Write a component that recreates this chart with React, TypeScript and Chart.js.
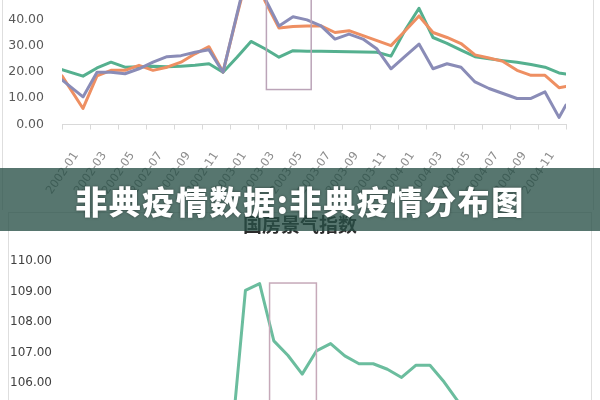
import React, { useEffect, useRef } from "react";
import { Chart, registerables } from "chart.js";

Chart.register(...registerables);

// ---------- Top chart data ----------
// month positions (0 = start of 2002-01, 36 = end of 2004-12)
const topMonthPositions = [
  0, 1.5, 2.5, 3.5, 4.5, 5.5, 6.5, 7.5, 8.5, 9.5, 10.5, 11.5, 12.5, 13.5, 14.5, 15.5, 16.5, 17.5, 18.5,
  19.5, 20.5, 21.5, 22.5, 23.5, 24.5, 25.5, 26.5, 27.5, 28.5, 29.5, 30.5, 31.5, 32.5, 33.5, 34.5, 35.5, 36,
];

const seriesPurple = [
  17.0, 10.5, 19.9, 19.9, 19.3, 21.2, 23.7, 25.8, 26.2, 27.5, 28.4, 19.9, 42.0, 64.0, 48.0, 37.5, 41.0, 39.8,
  37.5, 32.5, 34.4, 32.5, 28.7, 21.2, 25.9, 30.6, 21.2, 23.1, 21.8, 16.2, 13.7, 11.8, 9.9, 9.9, 12.4, 2.7, 7.4,
];

const seriesOrange = [
  18.5, 6.1, 18.5, 20.6, 20.6, 22.5, 20.6, 21.8, 23.7, 26.9, 29.6, 20.0, 41.5, 62.0, 47.0, 36.7, 37.3, 37.5,
  37.5, 35.0, 35.7, 33.8, 31.9, 30.0, 35.6, 41.3, 35.0, 33.1, 30.8, 26.5, 25.3, 24.0, 20.6, 18.7, 18.7, 14.0, 14.5,
];

const seriesGreen = [
  20.9, 18.4, 21.5, 23.7, 21.8, 22.0, 22.2, 22.0, 22.2, 22.5, 23.1, 19.9, 25.6, 31.6, 28.8, 25.6, 28.1, 27.9,
  27.9, 27.8, 27.7, 27.6, 27.5, 26.0, 35.8, 44.2, 33.1, 30.9, 28.3, 25.8, 25.0, 24.3, 23.7, 22.8, 21.8, 19.6, 19.2,
];

const topTickLabels = [
  "2002-01", "2002-03", "2002-05", "2002-07", "2002-09", "2002-11",
  "2003-01", "2003-03", "2003-05", "2003-07", "2003-09", "2003-11",
  "2004-01", "2004-03", "2004-05", "2004-07", "2004-09", "2004-11",
];
const topLabelPositions = [1, 3, 5, 7, 9, 11, 13, 15, 17, 19, 21, 23, 25, 27, 29, 31, 33, 35];
const topTickMarkMonths = [0, 2, 4, 6, 8, 10, 12, 14, 16, 18, 20, 22, 24, 26, 28, 30, 32, 34, 36];

const topHighlightMonths = [14.6, 17.8];
const topHighlightValues = [13.3, 66];

// ---------- Bottom chart data ----------
const bottomTitle = "国房景气指数";
const months = [
  "2002-01", "2002-02", "2002-03", "2002-04", "2002-05", "2002-06", "2002-07", "2002-08", "2002-09", "2002-10", "2002-11", "2002-12",
  "2003-01", "2003-02", "2003-03", "2003-04", "2003-05", "2003-06", "2003-07", "2003-08", "2003-09", "2003-10", "2003-11", "2003-12",
  "2004-01", "2004-02", "2004-03", "2004-04", "2004-05", "2004-06", "2004-07", "2004-08", "2004-09", "2004-10", "2004-11", "2004-12",
];
const climateIndex = [
  104.4, 104.2, 104.3, 104.5, 104.6, 104.4, 104.3, 104.5, 104.6, 104.4, 104.2, 104.0,
  109.04, 109.26, 107.38, 106.9, 106.29, 107.05, 107.29, 106.89, 106.63, 106.63, 106.45, 106.18,
  106.58, 106.58, 106.03, 105.38, 105.1, 104.9, 104.8, 104.7, 104.6, 104.5, 104.5, 104.4,
];
const bottomHighlightIndex = [13.7, 17.0];
const bottomHighlightValues = [100, 109.28];

const bannerText = "非典疫情数据:非典疫情分布图";

function boxPlugin(xr: number[], yr: number[], color: string) {
  return {
    id: "highlightBox",
    afterDatasetsDraw(chart: any) {
      const { ctx, scales } = chart;
      const x0 = scales.x.getPixelForValue(xr[0]);
      const x1 = scales.x.getPixelForValue(xr[1]);
      const y0 = scales.y.getPixelForValue(yr[0]);
      const y1 = scales.y.getPixelForValue(yr[1]);
      ctx.save();
      ctx.strokeStyle = color;
      ctx.lineWidth = 1.5;
      ctx.strokeRect(Math.min(x0, x1), Math.min(y0, y1), Math.abs(x1 - x0), Math.abs(y1 - y0));
      ctx.restore();
    },
  };
}

function TopChart() {
  const ref = useRef<HTMLCanvasElement>(null);
  useEffect(() => {
    const mk = (vals: number[]) => topMonthPositions.map((m, i) => ({ x: m, y: vals[i] }));
    const chart = new Chart(ref.current!, {
      type: "line",
      data: {
        datasets: [
          { data: mk(seriesPurple), borderColor: "#8a8cb7" },
          { data: mk(seriesOrange), borderColor: "#ee8f62" },
          { data: mk(seriesGreen), borderColor: "#55b08f" },
        ],
      },
      options: {
        responsive: false,
        animation: false,
        devicePixelRatio: 1,
        layout: { padding: { top: 0, right: 34, left: 0, bottom: 0 } },
        plugins: { legend: { display: false }, tooltip: { enabled: false } },
        elements: {
          point: { radius: 0 },
          line: { borderWidth: 3, tension: 0, borderJoinStyle: "round", borderCapStyle: "round" },
        },
        scales: {
          x: {
            type: "linear",
            min: 0,
            max: 36,
            afterBuildTicks: (s: any) => {
              s.ticks = topTickMarkMonths.map((v) => ({ value: v }));
            },
            ticks: { display: false },
            grid: { display: true, drawOnChartArea: false, drawTicks: true, tickLength: 5, color: "#d9d9d9" },
            border: { display: true, color: "#d9d9d9" },
            afterFit: (s: any) => {
              s.height = 5;
            },
          },
          x2: {
            type: "linear",
            position: "bottom",
            weight: 1,
            min: 0,
            max: 36,
            afterBuildTicks: (s: any) => {
              s.ticks = topLabelPositions.map((v) => ({ value: v }));
            },
            ticks: {
              autoSkip: false,
              maxRotation: 56,
              minRotation: 56,
              padding: 12,
              font: { family: "DejaVu Sans", size: 11.5 },
              color: "#8c8c8c",
              callback: (_v: any, i: number) => topTickLabels[i],
            },
            grid: { display: false },
            border: { display: false },
            afterFit: (s: any) => {
              s.height = 70.5;
            },
          },
          y: {
            min: 0,
            max: 70,
            ticks: {
              stepSize: 10,
              padding: 10,
              font: { family: "DejaVu Sans", size: 12.5 },
              color: "#595959",
              callback: (v: any) => Number(v).toFixed(2),
            },
            grid: { display: false },
            border: { display: false },
            afterFit: (s: any) => {
              s.width = 62;
            },
          },
        },
      } as any,
      plugins: [boxPlugin(topHighlightMonths, topHighlightValues, "#bba4b8")],
    });
    return () => chart.destroy();
  }, []);
  return (
    <canvas
      ref={ref}
      width={600}
      height={277}
      style={{ position: "absolute", left: 0, top: -77, width: 600, height: 277, zIndex: 2 }}
    />
  );
}

function BottomChart() {
  const ref = useRef<HTMLCanvasElement>(null);
  useEffect(() => {
    const chart = new Chart(ref.current!, {
      type: "line",
      data: {
        labels: months,
        datasets: [{ data: climateIndex, borderColor: "#6bbd9e", borderWidth: 3 }],
      },
      options: {
        responsive: false,
        animation: false,
        devicePixelRatio: 1,
        layout: { padding: { top: 0, right: 0, left: 0, bottom: 19.3 } },
        plugins: {
          legend: { display: false },
          tooltip: { enabled: false },
          title: {
            display: true,
            text: bottomTitle,
            color: "#2b2b2b",
            font: { family: "Noto Sans CJK SC", size: 19, weight: "bold" },
            padding: { top: 8.5, bottom: 24.8 },
          },
        },
        elements: { point: { radius: 0 }, line: { tension: 0, borderJoinStyle: "round" } },
        scales: {
          x: { type: "category", offset: true, display: false },
          y: {
            min: 100,
            max: 110,
            ticks: {
              stepSize: 1,
              padding: 8,
              font: { family: "DejaVu Sans", size: 12 },
              color: "#404040",
              callback: (v: any) => Number(v).toFixed(2),
            },
            grid: { display: false },
            border: { display: false },
            afterFit: (s: any) => {
              s.width = 68;
            },
          },
          yRight: {
            position: "right",
            display: true,
            ticks: { display: false },
            grid: { display: false },
            border: { display: false },
            afterFit: (s: any) => {
              s.width = 21;
            },
          },
        },
      } as any,
      plugins: [boxPlugin(bottomHighlightIndex, bottomHighlightValues, "#c6a9b9")],
    });
    return () => chart.destroy();
  }, []);
  return (
    <canvas
      ref={ref}
      width={600}
      height={380}
      style={{ position: "absolute", left: 0, top: 205, width: 600, height: 380, zIndex: 1 }}
    />
  );
}

export default function App() {
  return (
    <div
      style={{
        position: "fixed",
        left: 0,
        top: 0,
        width: 600,
        height: 400,
        overflow: "hidden",
        background: "#ffffff",
      }}
    >
      <div
        style={{
          position: "absolute",
          left: 2,
          top: -20,
          width: 590,
          height: 230,
          borderLeft: "1px solid #dedede",
          borderRight: "1px solid #dedede",
        }}
      />
      <div
        style={{
          position: "absolute",
          left: 8,
          top: 212,
          width: 582,
          height: 260,
          border: "1px solid #dedede",
        }}
      />
      <BottomChart />
      <TopChart />
      <div
        style={{
          position: "absolute",
          left: 0,
          top: 168,
          width: 600,
          height: 63,
          background: "rgba(40,80,70,0.78)",
          zIndex: 3,
          display: "flex",
          alignItems: "center",
          justifyContent: "center",
          color: "#ffffff",
          fontFamily: '"Noto Sans CJK SC", sans-serif',
          fontWeight: 900,
          fontSize: 32,
          letterSpacing: 1.6,
          textShadow: "0 0 3px rgba(0,0,0,0.45)",
          whiteSpace: "nowrap",
        }}
      >
        {bannerText}
      </div>
    </div>
  );
}
